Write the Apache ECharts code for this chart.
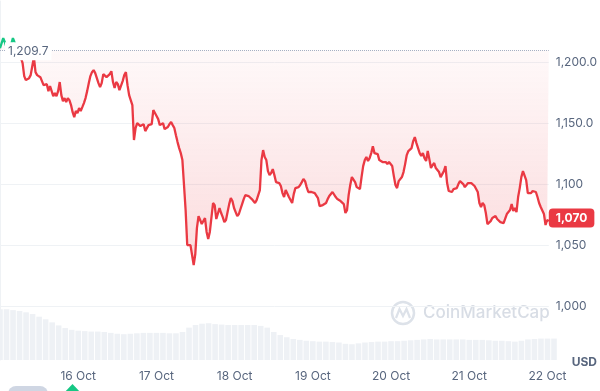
<!DOCTYPE html>
<html>
<head>
<meta charset="utf-8">
<script src="https://cdn.jsdelivr.net/npm/echarts@6/dist/echarts.min.js"></script>
<style>html,body{margin:0;padding:0;background:#fff}#c{width:600px;height:391px}</style>
</head>
<body>
<div id="c"></div>
<script>
// ---- data ----
const baseline = 1209.7;            // opening price (dotted reference line)
const startHour = 0;                // hours since 15 Oct 00:00
const priceStepHours = 0.5;
const prices = [
1211.4,1215.5,1219.6,1216.3,1212.3,1211.4,1209.8,1214.7,1219.6,1216.3,
1213.1,1210.6,1206.5,1203.3,1199.2,1188.6,1185.3,1185.3,1186.9,1189.4,
1196.7,1204.1,1191.8,1189.4,1191.0,1187.7,1184.5,1181.2,1180.4,1182.0,
1176.3,1180.4,1181.2,1172.2,1174.7,1172.2,1176.3,1183.7,1173.0,1168.1,
1170.6,1167.3,1170.6,1168.9,1164.9,1159.1,1155.0,1160.0,1158.3,1162.4,
1160.0,1163.2,1166.5,1170.6,1176.3,1182.8,1188.6,1191.8,1193.5,1191.0,
1186.9,1182.8,1179.6,1182.8,1190.2,1191.8,1187.7,1188.6,1190.2,1192.6,
1183.7,1178.8,1183.7,1182.0,1177.1,1177.9,1184.5,1189.4,1191.8,1181.2,
1173.0,1173.0,1164.9,1136.3,1146.1,1150.1,1151.0,1147.7,1146.9,1149.3,
1143.6,1145.2,1148.5,1148.5,1149.3,1160.8,1160.8,1155.9,1153.4,1148.5,
1147.7,1150.1,1145.2,1143.6,1146.9,1149.3,1151.0,1148.5,1146.1,1140.3,
1134.6,1129.7,1125.6,1119.9,1099.5,1079.0,1050.4,1048.8,1050.4,1050.4,
1034.1,1043.1,1064.3,1074.1,1070.9,1067.6,1067.6,1072.5,1061.1,1055.3,
1061.1,1060.2,1084.8,1083.1,1071.7,1072.5,1080.7,1076.6,1073.3,1069.2,
1070.9,1077.4,1083.9,1088.8,1086.4,1080.7,1077.4,1074.1,1075.8,1079.9,
1083.9,1088.0,1091.3,1090.5,1090.5,1089.7,1088.0,1087.2,1084.8,1087.2,
1091.3,1095.4,1119.9,1128.1,1122.4,1119.9,1110.9,1107.6,1109.3,1112.5,
1107.6,1101.9,1102.7,1101.1,1098.7,1092.9,1089.7,1095.4,1093.8,1089.7,
1091.3,1084.8,1092.1,1097.0,1095.4,1097.8,1099.5,1101.9,1104.4,1102.7,
1097.8,1093.8,1094.6,1093.8,1095.4,1092.9,1092.1,1088.8,1082.3,1082.3,
1083.1,1083.1,1084.8,1088.0,1090.5,1090.5,1093.8,1095.4,1089.7,1088.0,
1088.0,1086.4,1087.2,1083.9,1076.6,1079.0,1091.3,1099.5,1106.0,1106.8,
1101.9,1097.8,1097.0,1096.2,1106.0,1115.0,1119.9,1122.4,1119.1,1121.5,
1125.6,1131.3,1125.6,1126.4,1124.8,1119.9,1118.3,1118.3,1117.5,1118.3,
1116.6,1118.3,1118.3,1115.0,1106.8,1099.5,1097.0,1102.7,1102.7,1106.0,
1110.1,1116.6,1124.0,1127.3,1127.3,1129.7,1135.4,1138.7,1133.8,1129.7,
1125.6,1123.2,1125.6,1121.5,1119.1,1127.3,1120.7,1113.4,1115.8,1117.5,
1113.4,1114.2,1110.1,1106.0,1106.8,1110.9,1115.0,1101.1,1094.6,1095.4,
1093.8,1096.2,1097.8,1097.0,1100.3,1102.7,1101.9,1100.3,1097.8,1098.7,
1101.1,1101.1,1101.1,1100.3,1098.7,1097.8,1093.8,1084.8,1081.5,1084.8,
1083.1,1076.6,1067.6,1066.0,1070.0,1072.5,1071.7,1074.1,1071.7,1072.5,
1069.2,1069.2,1068.4,1068.4,1075.8,1077.4,1079.0,1083.9,1078.2,1080.7,
1077.4,1089.7,1097.0,1106.0,1110.9,1110.1,1103.6,1092.9,1092.1,1092.9,
1094.6,1093.8,1093.8,1089.7,1084.8,1081.5,1079.9,1075.8,1066.8,1070.9,
1070.0
];
const volumeStepHours = 2;
const volumes = [
58,58,57,56,54.5,52.5,49.5,46.5,43,39.5,
36.5,34.5,33.5,33,32.5,32.5,32,31,30,29.5,
30,30.5,31,31,31,31,30.5,30.5,32,37,
40,41.5,42,41,40.5,40,40,40,40,40,
39,37,32,28.5,26,24,23,22,21.5,21,
21,20.5,20,18.5,18,19,20,20.5,21,21,
21.5,21.5,22,22.5,23,23.5,24,23.5,23.5,23.5,
23.5,23.5,23,23,23,22.5,22,22,21.5,21,
22,23.5,24,24.5,24.5,24.5
];
const dayLabels = ['15 Oct','16 Oct','17 Oct','18 Oct','19 Oct','20 Oct','21 Oct','22 Oct'];
const priceTicks = [1000, 1050, 1100, 1150, 1200];
const priceTickText = ['1,000', '1,050', '1,100', '1,150.0', '1,200.0'];

// ---- chart ----
const FONT = 'Inter, "Noto Sans", sans-serif';
const RED = '#ea3943', GREEN = '#16c784', GREY = '#58667e', GRID = '#eff2f5';
const priceData = prices.map((p, i) => [startHour + i * priceStepHours, p]);
const volumeData = volumes.map((v, i) => [startHour + i * volumeStepHours, v]);
const xMax = 170;

const chart = echarts.init(document.getElementById('c'));
chart.setOption({
  animation: false,
  textStyle: { fontFamily: FONT },
  grid: [
    { left: 0, right: 46, top: 1, bottom: 84.3 },
    { left: 0, right: 46, top: 290, bottom: 31 }
  ],
  xAxis: [
    { type: 'value', gridIndex: 0, min: 0, max: xMax, interval: 24, show: false },
    { type: 'value', gridIndex: 1, min: 0, max: xMax, interval: 24,
      axisLine: { show: false }, axisTick: { show: false }, splitLine: { show: false },
      axisLabel: { color: GREY, fontSize: 12, margin: 10, fontFamily: FONT,
        showMinLabel: false, showMaxLabel: false,
        formatter: v => (v > 0 && v % 24 === 0) ? dayLabels[v / 24] : '' } }
  ],
  yAxis: [
    { type: 'value', gridIndex: 0, position: 'right', min: 1000, max: 1250, interval: 50,
      axisLine: { show: true, lineStyle: { color: GRID } }, axisTick: { show: false },
      splitLine: { show: true, showMaxLine: false, lineStyle: { color: GRID } },
      axisLabel: { color: GREY, fontSize: 12, margin: 7, fontFamily: FONT, showMaxLabel: false,
        formatter: v => { const i = priceTicks.indexOf(v); return i >= 0 ? priceTickText[i] : ''; } } },
    { type: 'value', gridIndex: 1, position: 'right', min: 0, max: 80,
      axisLine: { show: true, lineStyle: { color: GRID } }, axisTick: { show: false },
      axisLabel: { show: false }, splitLine: { show: false } }
  ],
  series: [
    { type: 'bar', xAxisIndex: 1, yAxisIndex: 1, data: volumeData, barWidth: 5.6,
      itemStyle: { color: '#eef1f5' }, silent: true, z: 1 },
    { type: 'line', xAxisIndex: 0, yAxisIndex: 0, data: priceData,
      showSymbol: false, symbol: 'none', z: 3,
      lineStyle: { width: 2.3, color: RED },
      areaStyle: {
        origin: baseline,
        color: new echarts.graphic.LinearGradient(0, 0, 0, 1, [
          { offset: 0, color: 'rgba(234,57,67,0.03)' },
          { offset: 1, color: 'rgba(234,57,67,0.26)' }
        ])
      },
      endLabel: {
        show: true, distance: 0, offset: [0, -3],
        formatter: p => Math.round(p.value[1]).toLocaleString('en-US'),
        color: '#fff', backgroundColor: RED, fontWeight: 'bold', fontSize: 12,
        fontFamily: FONT, padding: [4, 7, 3, 7], borderRadius: 4
      },
      markLine: {
        silent: true, symbol: ['none', 'none'],
        lineStyle: { type: 'dotted', color: '#a6b0c3', width: 1 },
        label: {
          show: true, position: 'insideStartTop', distance: [5, 0], offset: [0, 10],
          formatter: () => baseline.toLocaleString('en-US', { minimumFractionDigits: 1 }),
          color: GREY, fontSize: 12, fontFamily: FONT,
          backgroundColor: '#fff', padding: [3, 3]
        },
        data: [{ yAxis: baseline }]
      }
    }
  ],
  graphic: [
    { type: 'circle', shape: { cx: 403, cy: 313, r: 11 }, silent: true,
      style: { fill: 'none', stroke: '#dde2e9', lineWidth: 2.5 } },
    { type: 'polyline', shape: { points: [[396, 318], [399.5, 309], [403, 316], [406.5, 309], [410, 318]] }, silent: true,
      style: { fill: 'none', stroke: '#dde2e9', lineWidth: 2.2 } },
    { type: 'text', x: 423, y: 313, silent: true,
      style: { text: 'CoinMarketCap', font: '500 17px Inter', fill: '#d8dde5', align: 'left', verticalAlign: 'middle' } },
    { type: 'text', x: 597, y: 362, silent: true,
      style: { text: 'USD', font: 'bold 12px Inter', fill: GREY, align: 'right', verticalAlign: 'middle' } },
    { type: 'rect', shape: { x: 8, y: 386, width: 40, height: 20, r: 8 }, silent: true,
      style: { fill: '#cfd6e3' } },
    { type: 'polygon', shape: { points: [[72.5, 384], [62, 395], [83, 395]] }, silent: true,
      style: { fill: GREEN } }
  ]
});

// colour the stroke green above the baseline and red below it (global gradient with a hard stop)
const by = chart.convertToPixel({ yAxisIndex: 0 }, baseline);
const H = 391;
chart.setOption({
  series: [{}, {
    lineStyle: {
      color: new echarts.graphic.LinearGradient(0, 0, 0, H, [
        { offset: 0, color: GREEN },
        { offset: by / H, color: GREEN },
        { offset: by / H, color: RED },
        { offset: 1, color: RED }
      ], true)
    }
  }]
});
</script>
</body>
</html>
